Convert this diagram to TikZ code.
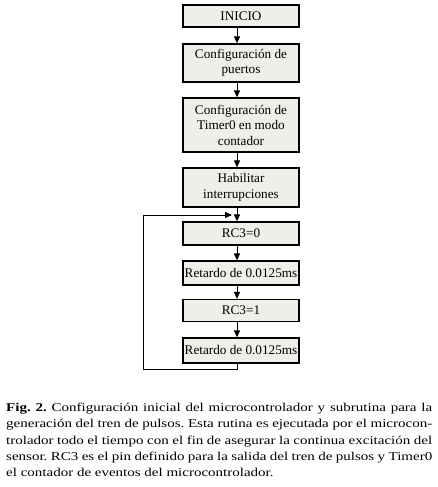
\documentclass[tikz,border=0pt]{standalone}
\usepackage{fontspec}
\setmainfont{Liberation Serif}
\newfontfamily\capfont[FakeStretch=1.25]{Liberation Serif}
\usetikzlibrary{arrows.meta}
\definecolor{boxfill}{RGB}{236,240,232}
\tikzset{
  stepbox/.style={draw=black, line width=1.2pt, fill=boxfill, minimum width=116pt,
    inner sep=1pt, align=center, font=\fontsize{13.2}{15.5}\selectfont},
  flow/.style={line width=1pt, -{Triangle[width=6pt,length=7pt]}},
}
\begin{document}
\begin{tikzpicture}[x=1pt,y=-1pt]
\useasboundingbox (0,0) rectangle (438,487);
\node[stepbox, minimum height=22pt] (inicio) at (241,16) {INICIO};
\node[stepbox, minimum height=38pt] (puertos) at (241,63) {Configuración de\\puertos};
\node[stepbox, minimum height=54pt] (timer) at (241,125) {Configuración de\\Timer0 en modo\\contador};
\node[stepbox, minimum height=39pt] (habil) at (241,187.5) {Habilitar\\interrupciones};
\node[stepbox, minimum height=23pt] (rcz) at (241,233.5) {RC3=0};
\node[stepbox, minimum height=24pt] (reta) at (241,273) {Retardo de 0.0125ms};
\node[stepbox, minimum height=22pt] (rco) at (241,310.5) {RC3=1};
\node[stepbox, minimum height=25pt] (retb) at (241,350.5) {Retardo de 0.0125ms};
\coordinate (ax) at (237,0);
\draw[flow] (inicio.south -| ax) -- (puertos.north -| ax);
\draw[flow] (puertos.south -| ax) -- (timer.north -| ax);
\draw[flow] (timer.south -| ax) -- (habil.north -| ax);
\draw[flow] (habil.south -| ax) -- (rcz.north -| ax);
\draw[flow] (rcz.south -| ax) -- (reta.north -| ax);
\draw[flow] (reta.south -| ax) -- (rco.north -| ax);
\draw[flow] (rco.south -| ax) -- (retb.north -| ax);
\coordinate (lb) at (143,369);
\coordinate (lt) at (143,215);
\coordinate (lend) at (232,215);
\draw[flow] (retb.south -| ax) |- (lb) -- (lt) -- (lend);
\node[anchor=north west, inner sep=0pt, text width=426pt, align=justify,
  font=\capfont\fontsize{12}{16.3}\selectfont\frenchspacing] (cap) at (6,403)
{\textbf{Fig. 2.} Configuración inicial del microcontrolador y subrutina para la\linebreak
generación del tren de pulsos. Esta rutina es ejecutada por el microcon-\linebreak
trolador todo el tiempo con el fin de asegurar la continua excitación del\linebreak
sensor. RC3 es el pin definido para la salida del tren de pulsos y Timer0\linebreak
el contador de eventos del microcontrolador.};
\end{tikzpicture}
\end{document}
